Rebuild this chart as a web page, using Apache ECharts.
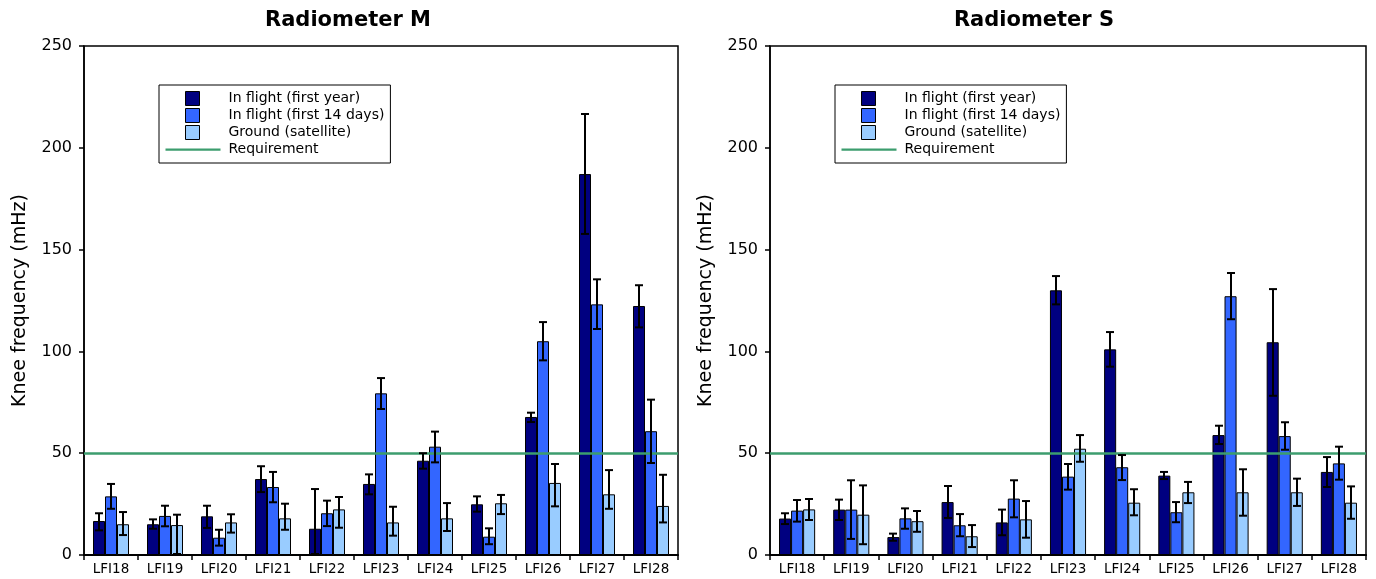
<!DOCTYPE html>
<html>
<head>
<meta charset="utf-8">
<script src="https://cdn.jsdelivr.net/npm/echarts@6/dist/echarts.min.js"></script>
<style>html,body{margin:0;padding:0;background:#fff;}#c{width:1376px;height:579px;}</style>
</head>
<body>
<div id="c"></div>
<script>
const categories = ['LFI18','LFI19','LFI20','LFI21','LFI22','LFI23','LFI24','LFI25','LFI26','LFI27','LFI28'];
const yTicks = [0, 50, 100, 150, 200, 250];
const requirement = 50;

// Radiometer M
const mFirstYear     = [16.7, 15.1, 19.0, 37.3, 12.9, 34.9, 46.3, 24.9, 67.8, 187.1, 122.3];
const mFirstYearLow  = [12.1, 12.9, 13.3, 30.9,  0.5, 29.8, 42.4, 21.3, 65.3, 157.7, 111.8];
const mFirstYearHigh = [20.5, 17.5, 24.2, 43.6, 32.4, 39.6, 50.0, 28.8, 69.9, 216.6, 132.5];
const m14Days        = [28.8, 19.2,  8.5, 33.4, 20.5, 79.4, 53.2,  9.0, 105.0, 123.1, 60.8];
const m14DaysLow     = [22.7, 14.1,  4.6, 25.9, 14.2, 71.7, 45.5,  5.3,  95.6, 111.0, 45.2];
const m14DaysHigh    = [34.9, 24.2, 12.4, 40.8, 26.7, 86.9, 60.6, 13.1, 114.4, 135.4, 76.3];
const mGround        = [15.1, 14.7, 16.0, 18.0, 22.4, 16.0, 18.0, 25.4, 35.4, 29.8, 24.1];
const mGroundLow     = [ 9.8,  0.5, 11.0, 12.4, 13.4,  9.5, 11.8, 20.1, 23.9, 22.7, 16.0];
const mGroundHigh    = [21.1, 19.8, 20.0, 25.2, 28.5, 23.7, 25.5, 29.5, 44.7, 41.7, 39.4];

// Radiometer S
const sFirstYear     = [17.9, 22.3,  8.8, 26.0, 16.0, 130.0, 101.0, 39.0, 58.9, 104.5, 40.8];
const sFirstYearLow  = [15.2, 17.2,  7.0, 18.2,  9.7, 123.1,  92.5, 37.3, 54.5,  78.2, 33.4];
const sFirstYearHigh = [20.5, 27.2, 10.5, 33.9, 22.3, 137.0, 109.5, 40.8, 63.5, 130.6, 48.1];
const s14Days        = [21.8, 22.3, 18.0, 14.6, 27.7, 38.5, 43.1, 21.0, 127.1, 58.4, 45.0];
const s14DaysLow     = [16.4,  7.9, 12.9,  9.2, 18.5, 32.1, 36.8, 16.1, 115.8, 51.7, 37.0];
const s14DaysHigh    = [27.0, 36.7, 22.9, 20.1, 36.7, 44.7, 49.1, 26.0, 138.5, 65.2, 53.2];
const sGround        = [22.4, 19.8, 16.6,  9.2, 17.5, 52.2, 25.7, 30.8, 30.8, 30.8, 25.7];
const sGroundLow     = [17.2,  5.3, 11.4,  3.9,  8.5, 45.8, 19.5, 25.5, 19.3, 24.1, 17.8];
const sGroundHigh    = [27.5, 34.2, 21.6, 14.7, 26.5, 58.9, 32.3, 35.9, 42.1, 37.5, 33.7];

const NAMES = ['In flight (first year)', 'In flight (first 14 days)', 'Ground (satellite)', 'Requirement'];
const COLORS = ['#000080', '#3366ff', '#99ccff'];
const GREEN = '#3c9d6e';
const FONT = 'DejaVu Sans';
const GAP = 1/3;

const chart = echarts.init(document.getElementById('c'), null, {renderer: 'canvas'});

function errSeries(idx, k, low, high) {
  return {
    type: 'custom', xAxisIndex: idx, yAxisIndex: idx, z: 5, silent: true,
    data: categories.map((c, i) => [i, low[i], high[i]]),
    encode: {x: 0, y: [1, 2]},
    renderItem: function (params, api) {
      const band = api.size([1, 0])[0];
      const bw = band * (1 - GAP) / 3;
      const p1 = api.coord([api.value(0), api.value(1)]);
      const p2 = api.coord([api.value(0), api.value(2)]);
      const x = Math.round(p1[0] + (k - 1) * bw);
      const cap = 4;
      const st = {stroke: '#000', lineWidth: 2};
      return {type: 'group', children: [
        {type: 'line', shape: {x1: x, y1: p1[1], x2: x, y2: p2[1]}, style: st},
        {type: 'line', shape: {x1: x - cap, y1: p1[1], x2: x + cap, y2: p1[1]}, style: st},
        {type: 'line', shape: {x1: x - cap, y1: p2[1], x2: x + cap, y2: p2[1]}, style: st}
      ]};
    }
  };
}

function barSeries(idx, k, vals) {
  return {
    type: 'bar', name: NAMES[k], xAxisIndex: idx, yAxisIndex: idx,
    data: vals, barGap: '0%', barCategoryGap: (GAP * 100) + '%',
    itemStyle: {color: COLORS[k], borderColor: '#000', borderWidth: 1},
    emphasis: {disabled: true}
  };
}

function reqSeries(idx) {
  return {
    type: 'line', name: NAMES[3], xAxisIndex: idx, yAxisIndex: idx,
    data: [], symbol: 'none', showSymbol: false,
    lineStyle: {color: GREEN, width: 2.5}, itemStyle: {color: GREEN},
    markLine: {silent: true, symbol: 'none', label: {show: false},
      lineStyle: {color: GREEN, width: 2.5, type: 'solid'},
      data: [{yAxis: requirement}]}
  };
}

const sqIcon = 'path://M0,0 M58,14 M20,0 h14 v14 h-14 z';
const lnIcon = 'path://M0,0 M58,14 M0,6 h55 v2.2 h-55 z';

function legend(left) {
  return {
    orient: 'vertical', left: left, top: 85,
    itemWidth: 58, itemHeight: 14, itemGap: 0, padding: [5, 6, 5, 6],
    borderColor: '#000', borderWidth: 1, backgroundColor: '#fff',
    itemStyle: {borderWidth: 1},
    textStyle: {fontFamily: FONT, fontSize: 14, color: '#000', lineHeight: 17},
    data: [
      {name: NAMES[0], icon: sqIcon},
      {name: NAMES[1], icon: sqIcon},
      {name: NAMES[2], icon: sqIcon},
      {name: NAMES[3], icon: lnIcon, itemStyle: {borderWidth: 0, color: GREEN}}
    ],
    selectedMode: false
  };
}

function xAx(idx) {
  return {
    type: 'category', gridIndex: idx, data: categories,
    axisLine: {lineStyle: {color: '#000', width: 2}},
    axisTick: {show: true, length: 5, lineStyle: {color: '#000', width: 1.5}},
    axisLabel: {color: '#000', fontFamily: FONT, fontSize: 13.5, margin: 7}
  };
}
function yAx(idx) {
  return {
    type: 'value', gridIndex: idx, min: yTicks[0], max: yTicks[yTicks.length - 1], interval: 50,
    name: 'Knee frequency (mHz)', nameLocation: 'middle', nameGap: 54,
    nameTextStyle: {color: '#000', fontFamily: FONT, fontSize: 19},
    axisLine: {show: true, lineStyle: {color: '#000', width: 1.5}},
    axisTick: {show: true, length: 5, lineStyle: {color: '#000', width: 1.5}},
    axisLabel: {color: '#000', fontFamily: FONT, fontSize: 16, margin: 12},
    splitLine: {show: false}
  };
}

chart.setOption({
  animation: false,
  backgroundColor: '#fff',
  title: [
    {text: 'Radiometer M', left: 343, top: 5, textAlign: 'center',
     textStyle: {fontFamily: FONT, fontSize: 21, fontWeight: 'bold', color: '#000'}},
    {text: 'Radiometer S', left: 1029, top: 5, textAlign: 'center',
     textStyle: {fontFamily: FONT, fontSize: 21, fontWeight: 'bold', color: '#000'}}
  ],
  legend: [legend(159), legend(835)],
  grid: [
    {left: 84, width: 594, top: 46, height: 509, show: true, borderColor: '#000', borderWidth: 1.5, backgroundColor: 'transparent'},
    {left: 770, width: 596, top: 46, height: 509, show: true, borderColor: '#000', borderWidth: 1.5, backgroundColor: 'transparent'}
  ],
  xAxis: [xAx(0), xAx(1)],
  yAxis: [yAx(0), yAx(1)],
  series: [
    barSeries(0, 0, mFirstYear), barSeries(0, 1, m14Days), barSeries(0, 2, mGround),
    reqSeries(0),
    errSeries(0, 0, mFirstYearLow, mFirstYearHigh),
    errSeries(0, 1, m14DaysLow, m14DaysHigh),
    errSeries(0, 2, mGroundLow, mGroundHigh),
    barSeries(1, 0, sFirstYear), barSeries(1, 1, s14Days), barSeries(1, 2, sGround),
    reqSeries(1),
    errSeries(1, 0, sFirstYearLow, sFirstYearHigh),
    errSeries(1, 1, s14DaysLow, s14DaysHigh),
    errSeries(1, 2, sGroundLow, sGroundHigh)
  ]
});
</script>
</body>
</html>
